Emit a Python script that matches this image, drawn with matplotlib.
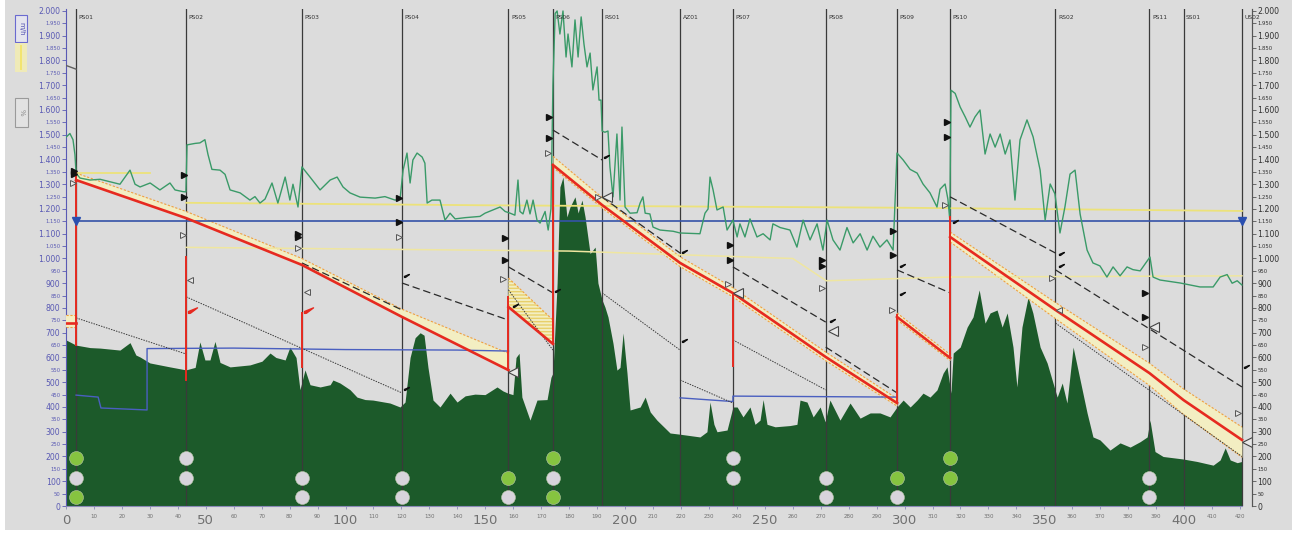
import matplotlib
matplotlib.use("Agg")
import matplotlib.pyplot as plt
import numpy as np
from matplotlib.patches import Rectangle

# ---------------- stations ----------------
station_names = ["PS01", "PS02", "PS03", "PS04", "PS05", "PS06", "RS01", "AZ01",
                 "PS07", "PS08", "PS09", "PS10", "RS02", "PS11", "SS01", "US02"]
station_km = [3.6, 43.0, 84.4, 120.2, 158.3, 174.2, 191.8, 219.7,
              238.6, 271.8, 297.3, 316.3, 354.0, 387.6, 399.8, 420.7]

# ---------------- ground profile (m) ----------------
terrain_km = [0, 3.6, 8.6, 12.2, 19.3, 22.9, 25, 26.5, 30, 37.2, 42.9, 46.2, 47.9, 49.7, 51.5,
              53.3, 55.1, 58.7, 65.8, 70.1, 73, 75.1, 78.4, 80.1, 82.3, 83.7, 85.5, 87.3, 90.9,
              94.5, 95.5, 98, 101.6, 104.1, 107, 109.8, 115.9, 119.5, 121.3, 123.1, 124.9, 126.7,
              128.1, 129.5, 131.3, 133.8, 137.4, 139.9, 142.8, 146.3, 149.9, 154.2, 156.3, 158.1,
              159.9, 161, 162.1, 163.1, 166, 168.5, 172.1, 173.5, 174.2, 175.7, 176.7, 177.8,
              179.2, 180.3, 182.1, 183.2, 184.6, 185.7, 187.5, 189.3, 190.3, 191.8, 192.8, 193.9,
              195.7, 197.1, 198.2, 199.3, 200.7, 201.8, 205.4, 207.2, 209, 211.4, 216.1, 219.7,
              226.8, 229.3, 230.4, 231.8, 232.9, 236.5, 238.6, 240.1, 242.2, 244.7, 246.5, 248.3,
              249.4, 250.8, 253.7, 259, 261.5, 262.6, 265.1, 267.3, 269.8, 271.6, 273.3, 276.9,
              280.5, 284.1, 287.7, 291.2, 294.8, 297.3, 299.5, 302, 304.5, 306.6, 309.1, 311.6,
              313.8, 315.2, 316.6, 317.4, 319.9, 322.4, 324.5, 326.7, 328.8, 330.6, 333.1, 334.9,
              336.7, 338.8, 340.2, 342, 344.2, 345.9, 348.5, 351, 352.8, 354.6, 356.4, 358.1,
              360.3, 362.8, 365.3, 367.4, 369.9, 373.5, 377.1, 380.7, 384.3, 386.8, 387.8, 389.6,
              392.5, 399.6, 404.6, 410.4, 412.9, 414.7, 416.5, 419, 420.7]
terrain_m = [671, 650, 640, 638, 630, 660, 610, 602, 578, 562, 550, 560, 663, 590, 590,
             665, 580, 562, 570, 585, 618, 600, 590, 642, 600, 470, 550, 490, 481,
             490, 509, 497, 470, 440, 430, 428, 416, 400, 420, 600, 680, 700,
             690, 560, 428, 400, 456, 420, 445, 452, 450, 481, 465, 456,
             450, 600, 617, 440, 347, 428, 430, 520, 537, 900, 1289, 1329,
             1168, 1208, 1249, 1184, 1236, 1168, 1020, 1046, 901, 832, 804, 764,
             657, 549, 560, 699, 537, 388, 400, 440, 380, 347, 295, 290,
             279, 300, 420, 330, 300, 307, 400, 400, 360, 400, 330, 347,
             430, 330, 320, 325, 330, 428, 420, 360, 400, 340, 428, 347,
             416, 355, 376, 376, 360, 400, 428, 400, 428, 456, 440, 469,
             537, 562, 456, 618, 642, 723, 764, 873, 739, 780, 792, 723,
             780, 642, 481, 723, 844, 780, 642, 578, 509, 440, 497, 416,
             642, 509, 376, 279, 267, 226, 255, 238, 260, 279, 347, 220,
             200, 190, 180, 165, 186, 235, 186, 175, 180]

# ---------------- maximum allowable head (m) ----------------
maop_km = [0, 1.4, 2.5, 3.2, 3.6, 5, 8.6, 12.2, 15.7, 19.3, 22.9, 24.7, 26.5, 30.1, 33.6, 37.2,
           39, 41.9, 42.9, 43.3, 46.2, 47.9, 49.7, 50.8, 52.2, 55.1, 56.9, 58.7, 62.3, 65.8,
           67.6, 69.4, 71.2, 73.7, 75.8, 78.4, 80.1, 81.2, 83, 84.4, 87.3, 90.9, 94.5, 97, 99.1,
           101.6, 105.2, 110.6, 114.1, 117.7, 119.5, 120.6, 122, 123.1, 124.1, 125.6, 127.4,
           128.4, 129.2, 130.9, 133.8, 135.6, 137.4, 139.2, 142.8, 148.1, 149.9, 155.3, 157.1,
           158.9, 160.6, 161.7, 162.4, 163.5, 164.9, 166, 167.1, 168.5, 169.6, 171.4, 172.5,
           173.5, 174.2, 175, 175.7, 176.7, 177.8, 178.9, 179.6, 181, 182.1, 183.2, 184.3,
           185.3, 186.4, 187.5, 188.5, 190, 190.7, 191.4, 191.8, 192.8, 193.9, 194.6, 195.7,
           197.1, 198.2, 198.9, 200, 201.8, 204.3, 205.4, 206.4, 207.2, 208.9, 210, 212.5,
           217.2, 219.7, 226.8, 228.6, 229.7, 230.4, 231.5, 232.9, 235.1, 236.5, 238.6, 240.1,
           241.1, 242.9, 244.7, 247.2, 249.4, 251.9, 252.9, 255.5, 259, 261.5, 263.7, 266.2,
           268.7, 270.8, 272.3, 274.4, 276.9, 279.4, 281.6, 284.1, 286.6, 288.7, 291.2, 293.7,
           295.9, 297.3, 299.5, 302, 304.5, 306.6, 309.1, 311.6, 312.7, 314.5, 315.5, 316.2,
           316.6, 318.1, 319.9, 321.7, 323.4, 325.2, 327, 328.8, 330.6, 332.4, 334.2, 336,
           337.7, 339.5, 341.3, 343.8, 346, 348.5, 350.3, 352.1, 353.8, 355.6, 357.4, 359.2,
           361, 362.8, 365.3, 367.4, 369.9, 372.4, 374.6, 377.1, 379.6, 381.7, 384.3, 387.8,
           388.9, 391.4, 398.6, 405.7, 410.4, 412.9, 415.4, 417.2, 419, 420.7]
maop_m = [1490, 1505, 1480, 1420, 1345, 1325, 1317, 1320, 1310, 1300, 1357, 1300, 1289, 1305, 1277, 1305,
          1277, 1270, 1269, 1459, 1465, 1467, 1480, 1420, 1360, 1357, 1340, 1277, 1265, 1236,
          1250, 1224, 1240, 1305, 1224, 1329, 1236, 1300, 1208, 1370, 1329, 1277, 1317, 1329, 1289,
          1265, 1248, 1244, 1250, 1236, 1240, 1357, 1426, 1305, 1398, 1426, 1410,
          1385, 1224, 1236, 1236, 1155, 1183, 1160, 1165, 1170, 1183, 1208, 1190,
          1183, 1175, 1317, 1190, 1180, 1236, 1180, 1236, 1155, 1143, 1190, 1115,
          1200, 1700, 1990, 2000, 1907, 2000, 1814, 1907, 1774, 1964, 1814, 1976,
          1867, 1774, 1830, 1681, 1774, 1640, 1640, 1515, 1510, 1515, 1370, 1249,
          1503, 1236, 1531, 1208, 1183, 1185, 1224, 1249, 1183, 1180, 1127, 1115,
          1110, 1103, 1100, 1183, 1200, 1329, 1277, 1196, 1208, 1115, 1155, 1087,
          1140, 1087, 1160, 1087, 1100, 1075, 1140, 1125, 1115, 1046, 1155, 1075,
          1140, 1034, 1155, 1075, 1034, 1125, 1063, 1100, 1034, 1090, 1046, 1075,
          1034, 1426, 1398, 1360, 1345, 1301, 1265, 1208, 1280, 1301, 1240, 1155,
          1680, 1667, 1612, 1572, 1531, 1572, 1600, 1422, 1503, 1450, 1503, 1422,
          1479, 1236, 1479, 1560, 1491, 1357, 1155, 1301, 1261, 1103, 1210, 1341,
          1357, 1180, 1034, 982, 970, 925, 966, 930, 966, 955, 950, 1006,
          925, 913, 901, 885, 885, 925, 935, 900, 910, 893]

# ---------------- hydraulic gradient (m), one list per pumped section ----------------
hgl_km = [[0, 3.6],
          [3.6, 43.0, 84.4, 120.2, 158.3],
          [158.3, 174.2],
          [174.2, 191.8, 219.7, 238.6, 271.8, 297.3],
          [297.3, 316.3],
          [316.3, 354.0, 387.6, 399.8, 420.7]]
hgl_m = [[739, 739],
         [1317, 1163, 974, 764, 549],
         [804, 655],
         [1378, 1216, 982, 860, 602, 416],
         [764, 598],
         [1087, 792, 537, 428, 267]]
band_hi = [[772, 772],
           [1345, 1190, 1000, 795, 617],
           [921, 751],
           [1413, 1246, 1007, 882, 622, 434],
           [780, 612],
           [1107, 822, 577, 473, 319]]
band_lo = [[723, 723],
           [1317, 1163, 974, 764, 549],
           [804, 655],
           [1368, 1204, 967, 845, 587, 404],
           [752, 588],
           [1067, 757, 487, 370, 197]]

# station head jumps (m)
jump_km = [3.6, 43.0, 84.4, 158.3, 174.2, 238.6, 297.3, 316.3]
jump_lo = [650, 509, 560, 549, 655, 565, 416, 598]
jump_hi = [1345, 1006, 780, 845, 1378, 860, 772, 1168]

# ---------------- other gradients ----------------
dash_km0 = [84.4, 120.2, 158.3, 174.2, 191.8, 238.6, 271.8, 297.3, 316.3, 354.0]
dash_km1 = [120.2, 158.3, 174.2, 191.8, 219.7, 271.8, 297.3, 316.3, 354.0, 420.7]
dash_m0 = [982, 901, 966, 1519, 1248, 966, 642, 954, 1249, 954]
dash_m1 = [792, 751, 861, 1398, 1022, 743, 457, 861, 1022, 481]

dot_km0 = [3.6, 43.0, 158.3, 191.8, 219.7, 238.6, 354.0]
dot_km1 = [43.0, 120.2, 174.2, 219.7, 238.6, 271.8, 420.7]
dot_m0 = [760, 845, 873, 861, 509, 671, 739]
dot_m1 = [614, 457, 630, 630, 416, 469, 200]

# ---------------- horizontal reference lines ----------------
static_head = 1150
yellow_a_km = [3.6, 30.0]
yellow_a_m = [1345, 1345]
yellow_b_km = [43.0, 150, 300, 420.7]
yellow_b_m = [1225, 1215, 1205, 1192]
yellow_c_km = [43.0, 180, 260, 272, 316, 420.7]
yellow_c_m = [1045, 1030, 1000, 910, 925, 930]
blue_a_km = [3.6, 11.5, 12.5, 29.0, 29.0, 60, 100, 140, 158.3]
blue_a_m = [448, 440, 396, 388, 636, 638, 632, 630, 626]
blue_b_km = [219.7, 238.6, 238.6, 297.3]
blue_b_m = [437, 422, 444, 440]
gray_km = [0, 3.6]
gray_m = [1780, 1765]

# ---------------- markers ----------------
filled_km = [3.0, 3.0, 42.2, 42.2, 83.0, 83.0, 119.0, 119.0, 157.2, 157.2, 172.9, 172.9,
             237.4, 237.4, 270.6, 270.6, 296.0, 296.0, 315.2, 315.2, 386.1, 386.1]
filled_m = [1355, 1340, 1337, 1249, 1100, 1085, 1244, 1147, 1083, 994, 1572, 1487,
            1055, 994, 994, 970, 1111, 1014, 1552, 1491, 861, 764]
open_r_km = [2.5, 41.9, 83.0, 119.0, 156.5, 172.5, 190.4, 236.9, 270.6, 295.5, 314.5, 352.7, 386.1, 419.3]
open_r_m = [1305, 1095, 1042, 1087, 917, 1426, 1249, 897, 881, 792, 1216, 921, 642, 376]
open_l_km = [44.2, 86.2, 355.3]
open_l_m = [913, 865, 792]
big_l_km = [160.0, 193.4, 240.5, 274.4, 389.2, 422.4]
big_l_m = [541, 1249, 861, 707, 723, 259]
flag_km = [121.0, 121.0, 160.0, 175.0, 192.6, 220.5, 220.5, 273.3, 298.4, 298.4, 317.4, 355.1, 355.1, 421.5]
flag_m = [925, 469, 804, 865, 1406, 1022, 663, 743, 853, 966, 1143, 1014, 966, 558]
red_flag_km = [43.5, 85.0]
red_flag_m = [780, 780]

# status lamps per pump station (g = running, w = idle, '' = none)
lamp_names = ["PS01", "PS02", "PS03", "PS04", "PS05", "PS06", "PS07", "PS08", "PS09", "PS10", "PS11"]
lamp_top = ["g", "w", "", "", "", "g", "w", "", "", "g", ""]
lamp_mid = ["w", "w", "w", "w", "g", "w", "w", "w", "g", "g", "w"]
lamp_bot = ["g", "", "w", "w", "w", "g", "", "w", "w", "", "w"]
lamp_levels = [195, 113, 36]

# ---------------- styling ----------------
BG = "#dcdcdc"
GROUND = "#1c5a2a"
RED = "#e62a20"
GREEN_LINE = "#3a9a68"
BLUE = "#3553a8"
AXIS_BLUE = "#5a5ab4"
YELLOW = "#ece27a"
BAND = "#f3eec2"
ORANGE = "#f0a040"

fig = plt.figure(figsize=(12.92, 5.34), dpi=100, facecolor=BG)
W, H = 1292, 534
ax = fig.add_axes([66 / W, (H - 506) / H, (1252 - 66) / W, (506 - 9) / H])
ax.set_facecolor(BG)
ax.set_xlim(0, 424.3)
ax.set_ylim(0, 2008)

# ground
ax.fill_between(terrain_km, 0, terrain_m, color=GROUND, lw=0, zorder=1)

# station lines and names
for name, km in zip(station_names, station_km):
    ax.axvline(km, color="#3a3a3a", lw=0.9, zorder=2)
    ax.text(km + 0.9, 1972, name, fontsize=4.3, color="#333333", ha="left", va="center", zorder=6)

# bands around the hydraulic gradient
for i, (k, hi, lo) in enumerate(zip(hgl_km, band_hi, band_lo)):
    if i == 2:
        ax.fill_between(k, lo, hi, facecolor=BAND, edgecolor="#e8d06a", hatch="-----", lw=0, zorder=3)
    else:
        ax.fill_between(k, lo, hi, color=BAND, lw=0, zorder=3)
    ax.plot(k, hi, color=ORANGE, lw=0.8, ls=(0, (2, 1.5)), zorder=3.2)
    if i in (0, 3, 4, 5):
        ax.plot(k, lo, color=ORANGE, lw=0.8, ls=(0, (2, 1.5)), zorder=3.2)

# reference lines
ax.plot(yellow_a_km, yellow_a_m, color=YELLOW, lw=1.3, zorder=3.5)
ax.plot(yellow_b_km, yellow_b_m, color=YELLOW, lw=1.3, zorder=3.5)
ax.plot(yellow_c_km, yellow_c_m, color="#efe6a0", lw=1.1, zorder=3.5)
ax.plot(gray_km, gray_m, color="#606060", lw=1.0, zorder=3.5)
ax.plot([station_km[0], station_km[-1]], [static_head, static_head], color=BLUE, lw=1.2, zorder=4)
ax.plot([station_km[0], station_km[-1]], [static_head, static_head], ls="none", marker="v",
        ms=6, color="#2a4fb0", zorder=7)
ax.plot(blue_a_km, blue_a_m, color="#4a5fc0", lw=1.0, zorder=4)
ax.plot(blue_b_km, blue_b_m, color="#4a5fc0", lw=1.0, zorder=4)

# max allowable head
ax.plot(maop_km, maop_m, color=GREEN_LINE, lw=1.0, zorder=4)

# other gradients
for k0, k1, m0, m1 in zip(dash_km0, dash_km1, dash_m0, dash_m1):
    ax.plot([k0, k1], [m0, m1], color="#2a2a2a", lw=0.9, ls=(0, (6, 3)), zorder=4.5)
for k0, k1, m0, m1 in zip(dot_km0, dot_km1, dot_m0, dot_m1):
    ax.plot([k0, k1], [m0, m1], color="#3a3a3a", lw=0.7, ls=(0, (1.5, 1.2)), zorder=4.5)

# hydraulic gradient
for k, m in zip(hgl_km, hgl_m):
    ax.plot(k, m, color=RED, lw=1.9, zorder=5)
for km, lo, hi in zip(jump_km, jump_lo, jump_hi):
    ax.plot([km, km], [lo, hi], color=RED, lw=1.4, zorder=5)

# pressure markers
flag = [(0, 0), (0, 0.35), (1.6, 1.0), (0.35, 0.05), (0, 0)]
ax.plot(filled_km, filled_m, ls="none", marker=">", ms=4.2, color="#111111", zorder=8)
ax.plot(open_r_km, open_r_m, ls="none", marker=">", ms=4.2, mfc="#e8e8e8", mec="#555555", mew=0.7, zorder=8)
ax.plot(open_l_km, open_l_m, ls="none", marker="<", ms=4.2, mfc="#e8e8e8", mec="#555555", mew=0.7, zorder=8)
ax.plot(big_l_km, big_l_m, ls="none", marker="<", ms=6.5, mfc="#e8e8e8", mec="#444444", mew=0.8, zorder=8)
ax.plot(flag_km, flag_m, ls="none", marker=flag, ms=7, color="#111111", zorder=8)
ax.plot(red_flag_km, red_flag_m, ls="none", marker=flag, ms=13, color=RED, zorder=8)

# station lamps
lamp_x = [station_km[station_names.index(n)] for n in lamp_names]
for row, level in zip([lamp_top, lamp_mid, lamp_bot], lamp_levels):
    for x, state in zip(lamp_x, row):
        if state:
            c = "#86c440" if state == "g" else "#d8d4dc"
            ax.plot(x, level, marker="o", ms=10, mfc=c, mec="#b8c8a8", mew=0.4, zorder=9)

# axes
yt = np.arange(0, 2001, 50)
ylabels = [f"{v:,}".replace(",", ".") for v in yt]
ax.set_yticks(yt)
ax.set_yticklabels(ylabels)
for v, lab in zip(yt, ax.get_yticklabels()):
    lab.set_fontsize(5.6 if v % 100 == 0 else 3.8)
    lab.set_color(AXIS_BLUE)
ax.tick_params(axis="y", direction="out", length=3, width=0.6, color=AXIS_BLUE, pad=1)

xt = np.arange(0, 421, 10)
ax.set_xticks(xt)
ax.set_xticklabels([str(v) for v in xt])
for v, lab in zip(xt, ax.get_xticklabels()):
    lab.set_fontsize(9.5 if v % 50 == 0 else 4.0)
    lab.set_color("#707070")
ax.tick_params(axis="x", direction="out", length=2.5, width=0.6, color="#8a8ab8", pad=3)

for s in ("top",):
    ax.spines[s].set_visible(False)
ax.spines["left"].set_color(AXIS_BLUE)
ax.spines["bottom"].set_color("#8a8ab8")
ax.spines["bottom"].set_bounds(0, 420.7)
ax.spines["right"].set_color("#555555")

ax2 = ax.twinx()
ax2.set_ylim(0, 2008)
ax2.set_yticks(yt)
ax2.set_yticklabels(ylabels)
for v, lab in zip(yt, ax2.get_yticklabels()):
    lab.set_fontsize(5.6 if v % 100 == 0 else 3.8)
    lab.set_color("#303030")
ax2.tick_params(axis="y", direction="out", length=3, width=0.6, color="#555555", pad=1)
for s in ("top", "left", "bottom"):
    ax2.spines[s].set_visible(False)
ax2.spines["right"].set_color("#555555")

# unit selector widgets on the left
fig.patches.append(Rectangle((15 / W, (H - 42) / H), 12 / W, 27 / H, transform=fig.transFigure,
                             facecolor="#e4e4ee", edgecolor="#6a6ad0", lw=0.8))
fig.text(21 / W, (H - 28.5) / H, "m/h", rotation=270, fontsize=5, color="#5050b0",
         ha="center", va="center")
fig.patches.append(Rectangle((15 / W, (H - 72) / H), 12 / W, 29 / H, transform=fig.transFigure,
                             facecolor="#efeab8", edgecolor="none"))
fig.patches.append(Rectangle((20 / W, (H - 70) / H), 2 / W, 25 / H, transform=fig.transFigure,
                             facecolor="#f2e470", edgecolor="none"))
fig.patches.append(Rectangle((15 / W, (H - 127) / H), 13 / W, 29 / H, transform=fig.transFigure,
                             facecolor="#e2e2e2", edgecolor="#9a9a9a", lw=0.8))
fig.text(21.5 / W, (H - 112) / H, "%", rotation=270, fontsize=5, color="#8a8a8a",
         ha="center", va="center")

# white frame edges
fig.patches.append(Rectangle((0, 0), 5 / W, 1, transform=fig.transFigure, facecolor="white", edgecolor="none"))
fig.patches.append(Rectangle((0, 0), 1, 4 / H, transform=fig.transFigure, facecolor="white", edgecolor="none"))

fig.savefig("out.png", dpi=100, facecolor=BG)
